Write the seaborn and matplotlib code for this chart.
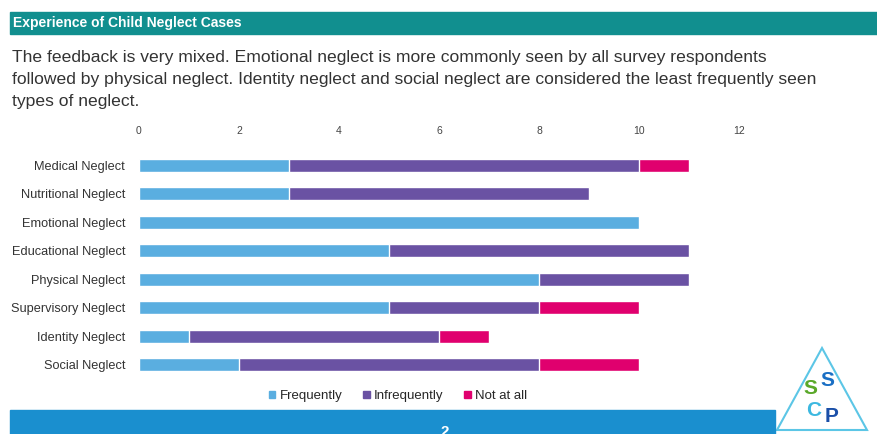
import pandas as pd
import numpy as np
import matplotlib.pyplot as plt
import matplotlib.patches as mpatches
import seaborn as sns

categories = ["Medical Neglect", "Nutritional Neglect", "Emotional Neglect",
              "Educational Neglect", "Physical Neglect", "Supervisory Neglect",
              "Identity Neglect", "Social Neglect"]
frequently = [3, 3, 10, 5, 8, 5, 1, 2]
infrequently = [7, 6, 0, 6, 3, 3, 5, 6]
not_at_all = [1, 0, 0, 0, 0, 2, 1, 2]
series_names = ["Frequently", "Infrequently", "Not at all"]
series_colors = ["#5aaee0", "#6a52a3", "#e0006e"]
x_ticks = [0, 2, 4, 6, 8, 10, 12]

title = "Experience of Child Neglect Cases"
intro = ("The feedback is very mixed. Emotional neglect is more commonly seen by all survey respondents\n"
         "followed by physical neglect. Identity neglect and social neglect are considered the least frequently seen\n"
         "types of neglect.")

sns.set_style("white")
plt.rcParams["font.family"] = ["Liberation Sans", "DejaVu Sans"]

df = pd.DataFrame({"Category": categories, "Frequently": frequently,
                   "Infrequently": infrequently, "Not at all": not_at_all})
df["c1"] = df["Frequently"]
df["c2"] = df["c1"] + df["Infrequently"]
df["c3"] = df["c2"] + df["Not at all"]

fig = plt.figure(figsize=(8.78, 4.34), dpi=100)

# header bar
fig.patches.append(mpatches.Rectangle((10 / 878, 1 - 34 / 434), 868 / 878, 22 / 434,
                                      transform=fig.transFigure, color="#118f8f", zorder=0))
fig.text(13 / 878, 1 - 23 / 434, title, color="white", fontsize=10, fontweight="bold",
         va="center", ha="left")
fig.text(12 / 878, 1 - 50 / 434, intro, color="#333333", fontsize=12.6, va="top", ha="left",
         linespacing=1.6)

ax = fig.add_axes([139 / 878, 1 - 379 / 434, 600 / 878, 228 / 434])
for col, color in zip(["c3", "c2", "c1"], series_colors[::-1]):
    sns.barplot(data=df, x=col, y="Category", color=color, orient="h", width=0.44,
                saturation=1, ax=ax)

ax.set_xlim(0, 12)
ax.set_xticks(x_ticks)
ax.xaxis.tick_top()
ax.tick_params(axis="x", length=0, pad=11, labelsize=7.5, labelcolor="#444444")
ax.tick_params(axis="y", length=0, pad=10, labelsize=9.2, labelcolor="#333333")
ax.set_xlabel("")
ax.set_ylabel("")
sns.despine(ax=ax, left=True, bottom=True, top=True, right=True)

handles = [mpatches.Patch(color=c, label=n) for c, n in zip(series_colors, series_names)]
fig.legend(handles=handles, loc="center", bbox_to_anchor=(398 / 878, 1 - 396 / 434), ncol=3,
           frameon=False, fontsize=9.5, handlelength=0.5, handleheight=0.5,
           handletextpad=0.3, columnspacing=1.6)

# footer bar
fig.patches.append(mpatches.Rectangle((10 / 878, 0), 765 / 878, 24 / 434,
                                      transform=fig.transFigure, color="#1a8fcf", zorder=0))
fig.text(445 / 878, -5 / 434, "2", color="white", fontsize=11, fontweight="bold",
         ha="center", va="bottom")

# logo
lax = fig.add_axes([772 / 878, 0, 100 / 878, 92 / 434])
lax.set_xlim(0, 100)
lax.set_ylim(0, 92)
lax.axis("off")
lax.add_patch(mpatches.Polygon([[5, 4], [95, 4], [50, 86]], closed=True, fill=False,
                               edgecolor="#5cc6e6", linewidth=1.5))
lax.text(38, 46, "S", color="#5aa829", fontsize=15, fontweight="bold", ha="center", va="center")
lax.text(55, 54, "S", color="#1a6fc4", fontsize=15, fontweight="bold", ha="center", va="center")
lax.text(42, 24, "C", color="#3cb8e0", fontsize=15, fontweight="bold", ha="center", va="center")
lax.text(60, 17, "P", color="#1a4fa8", fontsize=15, fontweight="bold", ha="center", va="center")

fig.savefig("out.png", dpi=100)
